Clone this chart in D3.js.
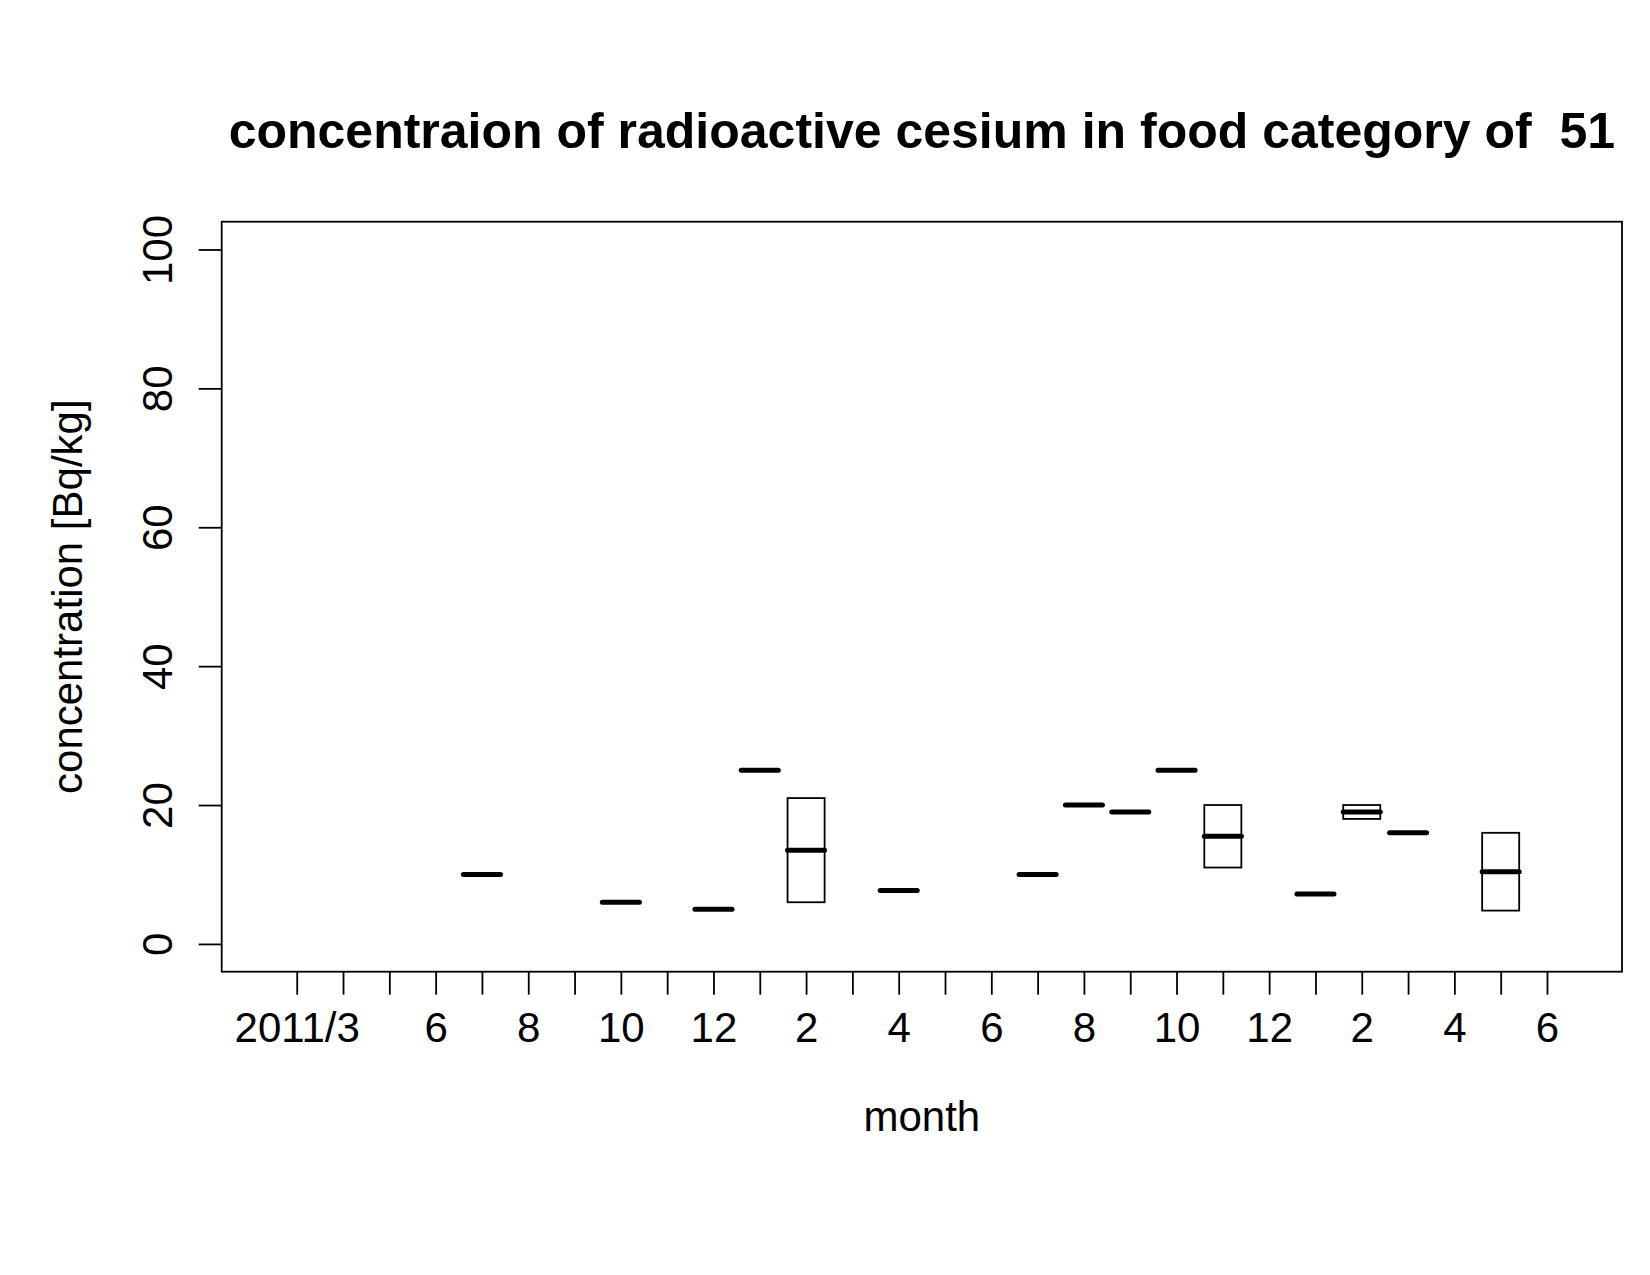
<!DOCTYPE html>
<html>
<head>
<meta charset="utf-8">
<script src="https://cdn.jsdelivr.net/npm/d3@7"></script>
<style>
  body { margin: 0; background: #fff; }
  svg { display: block; font-family: "Liberation Sans", Arial, Helvetica, sans-serif; }
</style>
</head>
<body>
<svg id="chart" width="1650" height="1275"></svg>
<script>
// month slots 2011/3 .. 2013/6 (28 positions), only some labels are shown (R drops overlapping ones)
const tickLabels = ['2011/3', '', '', '6', '', '8', '', '10', '', '12', '', '2', '', '4',
                    '', '6', '', '8', '', '10', '', '12', '', '2', '', '4', '', '6'];

// boxplot stats per month slot (1-based position), single samples have low = mid = high
const boxPos  = [5, 8, 10, 11, 12, 14, 17, 18, 19, 20, 21, 23, 24, 25, 27];
const boxLow  = [10, 6, 5, 25, 6, 7.7, 10, 20, 19, 25, 11, 7.2, 18, 16, 4.8];
const boxMid  = [10, 6, 5, 25, 13.5, 7.7, 10, 20, 19, 25, 15.5, 7.2, 19, 16, 10.4];
const boxHigh = [10, 6, 5, 25, 21, 7.7, 10, 20, 19, 25, 20, 7.2, 20, 16, 16];

const yTicks = [0, 20, 40, 60, 80, 100];

const svg = d3.select('#chart');
const plot = { left: 221.7, right: 1622, top: 221.7, bottom: 971.7 };

// R style 4% axis extension
const xlim = [0.5, tickLabels.length + 0.5];
const xe = (xlim[1] - xlim[0]) * 0.04;
const x = d3.scaleLinear().domain([xlim[0] - xe, xlim[1] + xe]).range([plot.left, plot.right]);
const ylim = [0, 100];
const ye = (ylim[1] - ylim[0]) * 0.04;
const y = d3.scaleLinear().domain([ylim[0] - ye, ylim[1] + ye]).range([plot.bottom, plot.top]);

const data = boxPos.map((p, i) => ({ pos: p, low: boxLow[i], mid: boxMid[i], high: boxHigh[i] }));
const halfW = 0.4;

// boxes
svg.append('g').selectAll('rect')
  .data(data)
  .enter().append('rect')
  .attr('x', d => x(d.pos - halfW))
  .attr('y', d => y(d.high))
  .attr('width', d => x(d.pos + halfW) - x(d.pos - halfW))
  .attr('height', d => y(d.low) - y(d.high))
  .attr('fill', 'none')
  .attr('stroke', '#000')
  .attr('stroke-width', 1.8);

// medians
svg.append('g').selectAll('line')
  .data(data)
  .enter().append('line')
  .attr('x1', d => x(d.pos - halfW))
  .attr('x2', d => x(d.pos + halfW))
  .attr('y1', d => y(d.mid))
  .attr('y2', d => y(d.mid))
  .attr('stroke', '#000')
  .attr('stroke-width', 5)
  .attr('stroke-linecap', 'round');

// frame
svg.append('rect')
  .attr('x', plot.left)
  .attr('y', plot.top)
  .attr('width', plot.right - plot.left)
  .attr('height', plot.bottom - plot.top)
  .attr('fill', 'none')
  .attr('stroke', '#000')
  .attr('stroke-width', 1.8);

// x axis
const xAxis = svg.append('g')
  .attr('transform', `translate(0, ${plot.bottom})`)
  .call(d3.axisBottom(x)
    .tickValues(d3.range(1, tickLabels.length + 1))
    .tickFormat(d => tickLabels[d - 1])
    .tickSize(23)
    .tickSizeOuter(0));
xAxis.select('.domain').remove();
xAxis.selectAll('line').attr('stroke', '#000').attr('stroke-width', 1.8);
xAxis.selectAll('text')
  .attr('y', 70)
  .attr('dy', 0)
  .attr('fill', '#000')
  .style('font-size', '42px')
  .style('font-family', '"Liberation Sans", Arial, sans-serif');

// y axis
const yAxis = svg.append('g')
  .attr('transform', `translate(${plot.left}, 0)`)
  .call(d3.axisLeft(y).tickValues(yTicks).tickSize(23).tickSizeOuter(0));
yAxis.select('.domain').remove();
yAxis.selectAll('line').attr('stroke', '#000').attr('stroke-width', 1.8);
yAxis.selectAll('text')
  .attr('x', 0)
  .attr('dy', 0)
  .attr('transform', 'translate(-50, 0) rotate(-90)')
  .attr('text-anchor', 'middle')
  .attr('fill', '#000')
  .style('font-size', '42px')
  .style('font-family', '"Liberation Sans", Arial, sans-serif');

// titles
svg.append('text')
  .attr('x', (plot.left + plot.right) / 2)
  .attr('y', 148)
  .attr('text-anchor', 'middle')
  .style('font-size', '50px')
  .style('font-weight', 'bold')
  .style('white-space', 'pre')
  .text('concentraion of radioactive cesium in food category of  51');

svg.append('text')
  .attr('x', (plot.left + plot.right) / 2)
  .attr('y', 1131)
  .attr('text-anchor', 'middle')
  .style('font-size', '42px')
  .text('month');

svg.append('text')
  .attr('transform', `translate(82, ${(plot.top + plot.bottom) / 2}) rotate(-90)`)
  .attr('text-anchor', 'middle')
  .style('font-size', '42px')
  .text('concentration [Bq/kg]');
</script>
</body>
</html>
